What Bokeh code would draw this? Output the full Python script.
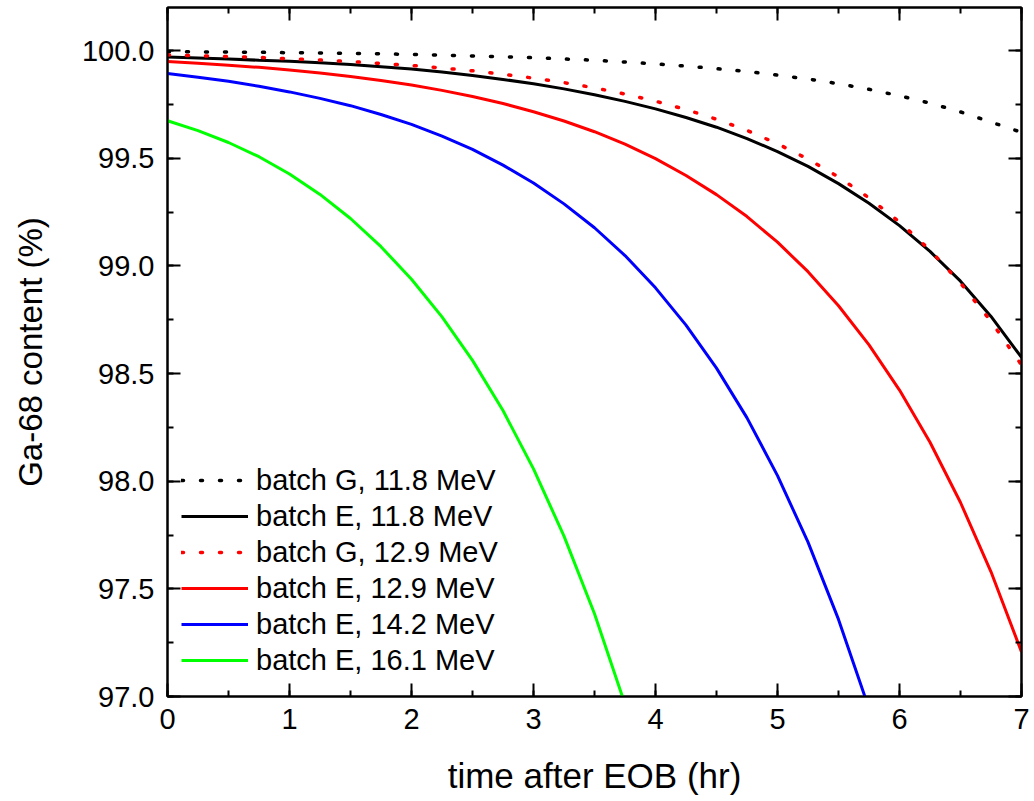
from bokeh.plotting import figure
from bokeh.models import (LinearAxis, SingleIntervalTicker, PrintfTickFormatter, Range1d,
                          CustomJSTickFormatter)
from bokeh.embed import file_html
from bokeh.resources import INLINE

# time after EOB (hr)
t_full = [0, 0.25, 0.5, 0.75, 1, 1.25, 1.5, 1.75, 2, 2.25, 2.5, 2.75, 3, 3.25, 3.5,
          3.75, 4, 4.25, 4.5, 4.75, 5, 5.25, 5.5, 5.75, 6, 6.25, 6.5, 6.75, 7]
t_blue = t_full[:24]
t_green = t_full[:16]

# Ga-68 content (%)
g_118 = [99.995, 99.994, 99.993, 99.992, 99.990, 99.989, 99.987, 99.985, 99.982, 99.979,
         99.975, 99.971, 99.967, 99.961, 99.955, 99.947, 99.938, 99.928, 99.916, 99.903,
         99.886, 99.868, 99.846, 99.820, 99.790, 99.756, 99.715, 99.668, 99.620]
e_118 = [99.970, 99.966, 99.961, 99.955, 99.950, 99.943, 99.935, 99.925, 99.914, 99.900,
         99.884, 99.866, 99.846, 99.822, 99.795, 99.764, 99.729, 99.689, 99.644, 99.591,
         99.531, 99.462, 99.382, 99.291, 99.187, 99.067, 98.929, 98.765, 98.575]
g_129 = [99.980, 99.976, 99.972, 99.968, 99.962, 99.956, 99.949, 99.940, 99.931, 99.919,
         99.906, 99.890, 99.872, 99.851, 99.827, 99.798, 99.765, 99.726, 99.681, 99.629,
         99.567, 99.496, 99.413, 99.316, 99.204, 99.073, 98.920, 98.742, 98.540]
e_129 = [99.949, 99.941, 99.932, 99.922, 99.910, 99.896, 99.880, 99.861, 99.840, 99.815,
         99.787, 99.754, 99.716, 99.673, 99.623, 99.565, 99.498, 99.420, 99.331, 99.229,
         99.110, 98.973, 98.815, 98.633, 98.423, 98.181, 97.901, 97.579, 97.207]
e_142 = [99.893, 99.876, 99.857, 99.834, 99.808, 99.778, 99.744, 99.703, 99.657, 99.603,
         99.541, 99.468, 99.385, 99.288, 99.177, 99.048, 98.898, 98.725, 98.525, 98.294,
         98.026, 97.717, 97.358, 96.944]
e_161 = [99.674, 99.628, 99.573, 99.507, 99.427, 99.332, 99.220, 99.089, 98.938, 98.763,
         98.561, 98.328, 98.057, 97.745, 97.384, 96.964]

labels = ["batch G, 11.8 MeV", "batch E, 11.8 MeV", "batch G, 12.9 MeV",
          "batch E, 12.9 MeV", "batch E, 14.2 MeV", "batch E, 16.1 MeV"]

FONT = "Liberation Sans"

p = figure(width=1034, height=801, x_range=Range1d(0, 7), y_range=Range1d(97.0, 100.2),
           output_backend="svg", toolbar_location=None,
           min_border_left=167, min_border_right=13, min_border_top=7, min_border_bottom=105,
           x_axis_label="time after EOB (hr)", y_axis_label="Ga-68 content (%)")
p.xgrid.grid_line_color = None
p.ygrid.grid_line_color = None
p.outline_line_color = "black"
p.outline_line_width = 2
p.background_fill_color = "white"
p.border_fill_color = "white"


def style(ax, show_labels):
    ax.axis_line_width = 2
    ax.axis_line_color = "black"
    ax.major_tick_line_color = "black"
    ax.minor_tick_line_color = "black"
    ax.major_tick_line_width = 2
    ax.minor_tick_line_width = 2
    ax.major_tick_in = 13
    ax.major_tick_out = 0
    ax.minor_tick_in = 6
    ax.minor_tick_out = 0
    ax.major_label_text_font = FONT
    ax.major_label_text_color = "black"
    ax.axis_label_text_font = FONT
    ax.axis_label_text_color = "black"
    ax.axis_label_text_font_style = "normal"
    if show_labels:
        ax.major_label_text_font_size = "29px"
    else:
        ax.formatter = CustomJSTickFormatter(code="return ''")
        ax.major_label_text_font_size = "1px"
        ax.major_label_standoff = 0


p.xaxis.ticker = SingleIntervalTicker(interval=1, num_minor_ticks=2)
p.yaxis.ticker = SingleIntervalTicker(interval=0.5, num_minor_ticks=2)
p.yaxis.formatter = PrintfTickFormatter(format="%.1f")
style(p.xaxis[0], True)
style(p.yaxis[0], True)
p.xaxis.axis_label_text_font_size = "35px"
p.yaxis.axis_label_text_font_size = "33px"
p.xaxis.major_label_standoff = 12
p.yaxis.major_label_standoff = 13
p.xaxis.axis_label_standoff = 24
p.yaxis.axis_label_standoff = 30

top = LinearAxis(ticker=SingleIntervalTicker(interval=1, num_minor_ticks=2))
style(top, False)
p.add_layout(top, "above")
right = LinearAxis(ticker=SingleIntervalTicker(interval=0.5, num_minor_ticks=2))
style(right, False)
p.add_layout(right, "right")

dot = dict(line_width=3.5, line_dash="2 17", line_cap="round")
p.line(t_full, g_118, line_color="black", legend_label=labels[0], **dot)
p.line(t_full, e_118, line_color="black", line_width=3, legend_label=labels[1])
p.line(t_full, g_129, line_color="#ff0000", legend_label=labels[2], **dot)
p.line(t_full, e_129, line_color="#ff0000", line_width=3, legend_label=labels[3])
p.line(t_blue, e_142, line_color="#0000ff", line_width=3, legend_label=labels[4])
p.line(t_green, e_161, line_color="#00ff00", line_width=3, legend_label=labels[5])

lg = p.legend[0]
lg.location = (14, 18)
lg.padding = 0
lg.margin = 0
lg.border_line_color = None
lg.background_fill_alpha = 0
lg.label_text_font = FONT
lg.label_text_color = "black"
lg.label_text_font_size = "29px"
lg.glyph_width = 67
lg.glyph_height = 36
lg.label_height = 36
lg.label_standoff = 8
lg.spacing = 0

open("out.html", "w").write(file_html(p, INLINE))
